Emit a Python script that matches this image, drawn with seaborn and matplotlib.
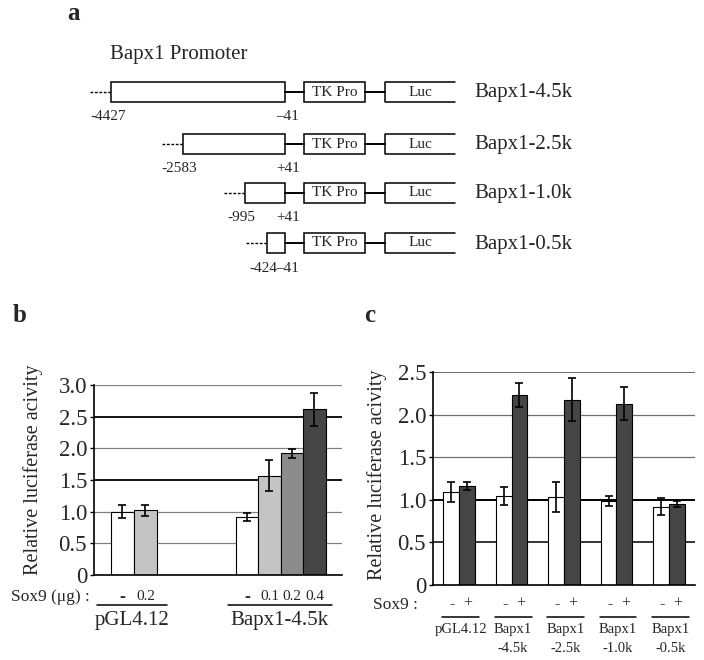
import numpy as np
import pandas as pd
import matplotlib
matplotlib.use('Agg')
import matplotlib.pyplot as plt
import matplotlib.transforms as mtransforms
from matplotlib.patches import Rectangle
import seaborn as sns

# --- panel a: promoter constructs
constructs = ['Bapx1-4.5k', 'Bapx1-2.5k', 'Bapx1-1.0k', 'Bapx1-0.5k']
starts = [-4427, -2583, -995, -424]
start_labels = ['-4427', '-2583', '-995', '-424']
end_labels = ['\u201341', '+41', '+41', '\u201341']

# --- panel b: Sox9 dose response
b_values = [1.00, 1.02, 0.92, 1.57, 1.92, 2.62]
b_errors = [0.10, 0.09, 0.065, 0.25, 0.07, 0.26]
b_dose = ['-', '0.2', '-', '0.1', '0.2', '0.4']
b_groups = ['pGL4.12', 'Bapx1-4.5k']
b_yticks = [0, 0.5, 1.0, 1.5, 2.0, 2.5, 3.0]
b_yticklabels = ['0', '0.5', '1.0', '1.5', '2.0', '2.5', '3.0']

# --- panel c: deletion constructs -/+ Sox9
c_groups = ['pGL4.12', 'Bapx1\n-4.5k', 'Bapx1\n-2.5k', 'Bapx1\n-1.0k', 'Bapx1\n-0.5k']
c_minus = [1.09, 1.04, 1.03, 0.985, 0.92]
c_minus_err = [0.115, 0.105, 0.175, 0.06, 0.10]
c_plus = [1.16, 2.23, 2.175, 2.13, 0.95]
c_plus_err = [0.05, 0.14, 0.25, 0.195, 0.035]
c_yticks = [0, 0.5, 1.0, 1.5, 2.0, 2.5]
c_yticklabels = ['0', '0.5', '1.0', '1.5', '2.0', '2.5']

sns.set_style('white')
plt.rcParams['font.family'] = ['Liberation Serif', 'DejaVu Serif']

W, H = 704, 660
fig = plt.figure(figsize=(W / 100, H / 100), dpi=100)

# overlay axes in pixel coordinates for the schematic and annotations
ax_a = fig.add_axes([0, 0, 1, 1], zorder=-1)
ax_a.set_xlim(0, W)
ax_a.set_ylim(H, 0)
ax_a.axis('off')

fig.text(74 / W, 1 - 13 / H, 'a', fontsize=18, fontweight='bold', ha='center', va='center')
fig.text(20 / W, 1 - 316 / H, 'b', fontsize=18, fontweight='bold', ha='center', va='center')
fig.text(370 / W, 1 - 316 / H, 'c', fontsize=18, fontweight='bold', ha='center', va='center')

# ---------------- panel a
ax_a.text(110, 55, 'Bapx1 Promoter', fontsize=15, ha='left', va='center')
x_end = 285
bp_px = 0.039
row_y = [92, 144, 192.5, 243]
lw_box = 1.1
for name, st, sl, el, yc in zip(constructs, starts, start_labels, end_labels, row_y):
    x0 = x_end - (abs(st) + 41) * bp_px
    ax_a.add_patch(Rectangle((x0, yc - 10), x_end - x0, 20, fill=False, lw=lw_box, ec='black'))
    ax_a.plot([x0 - 21, x0], [yc, yc], ls=(0, (2, 1.2)), lw=1, color='black')
    ax_a.plot([x_end, 304], [yc, yc], lw=1.4, color='black')
    ax_a.add_patch(Rectangle((304, yc - 10), 61, 20, fill=False, lw=lw_box, ec='black'))
    ax_a.text(334.5, yc, 'TK Pro', fontsize=11, ha='center', va='center')
    ax_a.plot([365, 385], [yc, yc], lw=1.4, color='black')
    ax_a.plot([455, 385, 385, 455], [yc - 10, yc - 10, yc + 10, yc + 10], lw=lw_box, color='black')
    ax_a.text(420, yc, 'Luc', fontsize=11, ha='center', va='center')
    ax_a.text(x0 - 3, yc + 25, sl, fontsize=11, ha='center', va='center')
    ax_a.text(288, yc + 25, el, fontsize=11, ha='center', va='center')
    ax_a.text(474, yc + 1, name, fontsize=15, ha='left', va='center')


def style_axes(ax, ticks, labels, grid, label_xy):
    ax.set_ylim(0, ticks[-1])
    for t in ticks[1:]:
        color, lw = grid[t]
        ax.axhline(t, color=color, lw=lw, zorder=0)
    ax.set_yticks(ticks)
    ax.set_yticklabels(labels, fontsize=16.5)
    ax.set_xticks([])
    ax.set_xlabel('')
    ax.set_ylabel('Relative luciferase acivity', fontsize=14.5)
    ax.yaxis.set_label_coords(*label_xy)
    ax.tick_params(axis='y', length=3, width=1, color='black', pad=2, left=True)
    for s in ['top', 'right']:
        ax.spines[s].set_visible(False)
    for s in ['left', 'bottom']:
        ax.spines[s].set_color('black')
        ax.spines[s].set_linewidth(1.2)


# ---------------- panel b
ax_b = fig.add_axes([94 / W, 1 - 575 / H, 248 / W, 190 / H])
b_pos = [1.26, 2.28, 6.78, 7.78, 8.78, 9.78]
b_colors = ['white', '#c4c4c4', 'white', '#c4c4c4', '#8c8c8c', '#454545']
sns.barplot(x=b_pos, y=b_values, native_scale=True, width=1.0, color='white',
            edgecolor='black', linewidth=0.8, errorbar=None, ax=ax_b)
for patch, col in zip(sorted(ax_b.patches, key=lambda p: p.get_x()), b_colors):
    patch.set_facecolor(col)
ax_b.errorbar(b_pos, b_values, yerr=b_errors, fmt='none', ecolor='black',
              elinewidth=1.2, capsize=3, capthick=1.2, zorder=3)
ax_b.set_xlim(0, 11)
b_grid = {0.5: ('#808080', 0.9), 1.0: ('#808080', 0.9), 1.5: ('black', 1.3),
          2.0: ('#808080', 0.9), 2.5: ('black', 1.3), 3.0: ('#808080', 0.9)}
style_axes(ax_b, b_yticks, b_yticklabels, b_grid, (-0.204, 0.553))

tb = mtransforms.blended_transform_factory(ax_b.transData, ax_a.transData)
fig.text(90 / W, 1 - 597 / H, 'Sox9 (\u03bcg) :', fontsize=12.5, ha='right', va='center')
for x, d in zip(b_pos, b_dose):
    ax_b.text(x, 597, d, fontsize=13 if d == '-' else 11, fontweight='bold' if d == '-' else 'normal',
              ha='center', va='center', transform=tb, clip_on=False)
b_spans = [(0.13, 3.24), (5.94, 10.55)]
for (x0, x1), g in zip(b_spans, b_groups):
    ax_b.plot([x0, x1], [605, 605], color='black', lw=1.1, transform=tb, clip_on=False)
    ax_b.text((x0 + x1) / 2, 621, g, fontsize=15, ha='center', va='center',
              transform=tb, clip_on=False)

# ---------------- panel c
ax_c = fig.add_axes([433 / W, 1 - 585 / H, 262 / W, 213 / H])
df_c = pd.DataFrame({
    'construct': c_groups * 2,
    'sox9': ['-'] * len(c_groups) + ['+'] * len(c_groups),
    'value': c_minus + c_plus,
})
sns.barplot(data=df_c, x='construct', y='value', hue='sox9', hue_order=['-', '+'],
            palette={'-': 'white', '+': '#454545'}, width=0.6, edgecolor='black',
            linewidth=0.8, errorbar=None, legend=False, ax=ax_c)
c_vals_il = [v for pair in zip(c_minus, c_plus) for v in pair]
c_errs_il = [e for pair in zip(c_minus_err, c_plus_err) for e in pair]
bars = sorted([p for p in ax_c.patches if p.get_height() > 0], key=lambda p: p.get_x())
c_x = [p.get_x() + p.get_width() / 2 for p in bars]
ax_c.errorbar(c_x, c_vals_il, yerr=c_errs_il, fmt='none', ecolor='black',
              elinewidth=1.2, capsize=3, capthick=1.2, zorder=3)
ax_c.set_xlim(-0.5, len(c_groups) - 0.5)
c_grid = {0.5: ('black', 1.1), 1.0: ('black', 1.4), 1.5: ('#707070', 0.9),
          2.0: ('#707070', 0.9), 2.5: ('#404040', 1.1)}
style_axes(ax_c, c_yticks, c_yticklabels, c_grid, (-0.176, 0.519))

tc = mtransforms.blended_transform_factory(ax_c.transData, ax_a.transData)
fig.text(418 / W, 1 - 605 / H, 'Sox9 :', fontsize=12.5, ha='right', va='center')
for i, g in enumerate(c_groups):
    ax_c.text(i - 0.13, 604, '-', fontsize=11.5, ha='center', va='center', transform=tc, clip_on=False)
    ax_c.text(i + 0.17, 604, '+', fontsize=11.5, ha='center', va='center', transform=tc, clip_on=False)
    ax_c.plot([i - 0.32, i + 0.38], [617, 617], color='black', lw=1.1, transform=tc, clip_on=False)
    for k, line in enumerate(g.split('\n')):
        ax_c.text(i + 0.03, 629 + 19 * k, line, fontsize=10.5, ha='center', va='center',
                  transform=tc, clip_on=False)

fig.savefig('out.png', dpi=100)
